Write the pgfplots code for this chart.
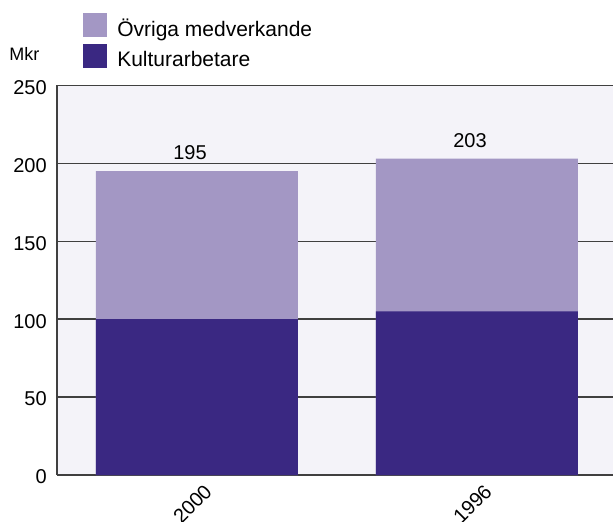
\documentclass[border=0pt]{standalone}
\usepackage{pgfplots}
\pgfplotsset{compat=1.18}
\usepackage{fontspec}
\setmainfont{Liberation Sans}
\definecolor{lightp}{HTML}{A397C4}
\definecolor{darkp}{HTML}{3A2882}
\definecolor{bgp}{HTML}{F4F3F9}
\definecolor{gridc}{HTML}{404040}
\begin{document}
\begin{tikzpicture}
\useasboundingbox (0pt,0pt) rectangle (459.75pt,390.75pt);
\begin{scope}
\clip (0pt,0pt) rectangle (459.75pt,390.75pt);
\begin{axis}[
  at={(42.75pt,34.5pt)}, anchor=south west,
  scale only axis, width=417pt, height=292.2pt,
  xmin=-0.5, xmax=1.486, ymin=0, ymax=250,
  ybar, bar width=151.5pt, bar shift=0pt,
  axis x line=bottom, axis y line=left,
  axis line style={gridc, line width=1.1pt, -},
  ytick={0,50,...,250}, ymajorgrids,
  grid style={gridc, line width=1.1pt},
  xtick={0,1}, xticklabels={2000,1996},
  major tick length=0pt,
  tick label style={font=\fontsize{15}{17}\selectfont},
  /pgf/number format/assume math mode=true,
  yticklabel style={anchor=east, inner sep=0pt, xshift=-7.5pt, yshift=-1.5pt},
  xticklabel style={rotate=45, anchor=east, inner sep=0pt, xshift=-0.9pt, yshift=-13pt},
  axis background/.style={fill=bgp},
  legend style={at={(0.0468,1.186)}, anchor=north west, draw=none, fill=none,
    inner sep=0pt, row sep=3.75pt, column sep=7.5pt, font=\fontsize{15.75}{18}\selectfont,
    nodes={inner sep=0pt}},
  legend cell align=left,
  legend image code/.code={\fill[#1] (0pt,-6pt) rectangle (18pt,12pt);},
]
% total heights (Övriga medverkande on top of Kulturarbetare)
\addplot[fill=lightp, draw=none, bar shift=0pt, nodes near coords,
  nodes near coords style={anchor=south, inner sep=0pt, xshift=-5.25pt, yshift=8pt,
    font=\fontsize{15}{17}\selectfont, text=black}]
  coordinates {(0,195) (1,203)};
\addplot[fill=darkp, draw=none, bar shift=0pt] coordinates {(0,100) (1,105)};
\legend{Övriga medverkande, Kulturarbetare}
\end{axis}
\end{scope}
\node[anchor=west, inner sep=0pt, font=\fontsize{13.5}{15}\selectfont] at (6.75pt,350.25pt) {Mkr};
\end{tikzpicture}
\end{document}
